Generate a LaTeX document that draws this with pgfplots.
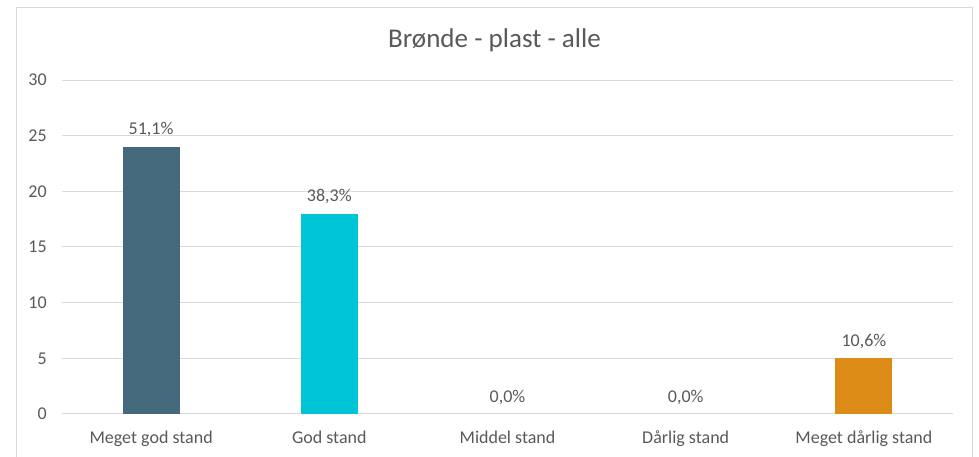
\documentclass[border=0pt]{standalone}
\usepackage{pgfplots}
\pgfplotsset{compat=1.18}
\usepackage{fontspec}
\setmainfont{Carlito}
\definecolor{txt}{HTML}{595959}
\definecolor{gridc}{HTML}{D9D9D9}
\definecolor{barA}{HTML}{44687C}
\definecolor{barB}{HTML}{00C5D7}
\definecolor{barC}{HTML}{DD8B17}
\begin{document}
\begin{tikzpicture}
% 1px = 0.75pt
\path[use as bounding box] (0,0) rectangle (734.25pt,342.75pt);
\draw[gridc, line width=0.75pt] (12pt,-1pt) -- (12pt,336.75pt) -- (729pt,336.75pt) -- (729pt,-1pt);
\node[anchor=base, text=txt, font=\fontsize{20.3}{24}\selectfont, inner sep=0pt]
  at (370.9pt,306.75pt) {Brønde - plast - alle};
\begin{axis}[
    at={(46.5pt,32.25pt)}, anchor=south west,
    scale only axis, width=668.25pt, height=250.5pt,
    xmin=-0.5, xmax=4.5, ymin=0, ymax=30,
    ytick={0,5,...,30},
    xtick={0,1,2,3,4},
    xticklabels={Meget god stand,God stand,Middel stand,Dårlig stand,Meget dårlig stand},
    ymajorgrids, grid style={gridc, line width=0.75pt},
    axis line style={draw=none},
    major tick length=0pt,
    tick style={draw=none},
    /pgf/number format/assume math mode=true,
    ticklabel style={font=\fontsize{13.5}{16}\selectfont, text=txt},
    yticklabel style={anchor=east, inner sep=0pt, xshift=-11.25pt},
    xticklabel style={anchor=base, inner sep=0pt, yshift=-22.5pt},
    ybar, bar width=42.75pt, bar shift=0pt,
    nodes near coords, point meta=explicit symbolic,
    nodes near coords style={anchor=base, inner sep=0pt, yshift=9pt,
        font=\fontsize{13.5}{16}\selectfont, text=txt},
]
\addplot[fill=barA, draw=none] coordinates {(0,24) [51{,}1\%]};
\addplot[fill=barB, draw=none] coordinates {(1,18) [38{,}3\%]};
\addplot[fill=none, draw=none] coordinates {(2,0) [0{,}0\%]};
\addplot[fill=none, draw=none] coordinates {(3,0) [0{,}0\%]};
\addplot[fill=barC, draw=none] coordinates {(4,5) [10{,}6\%]};
\end{axis}
\end{tikzpicture}
\end{document}
